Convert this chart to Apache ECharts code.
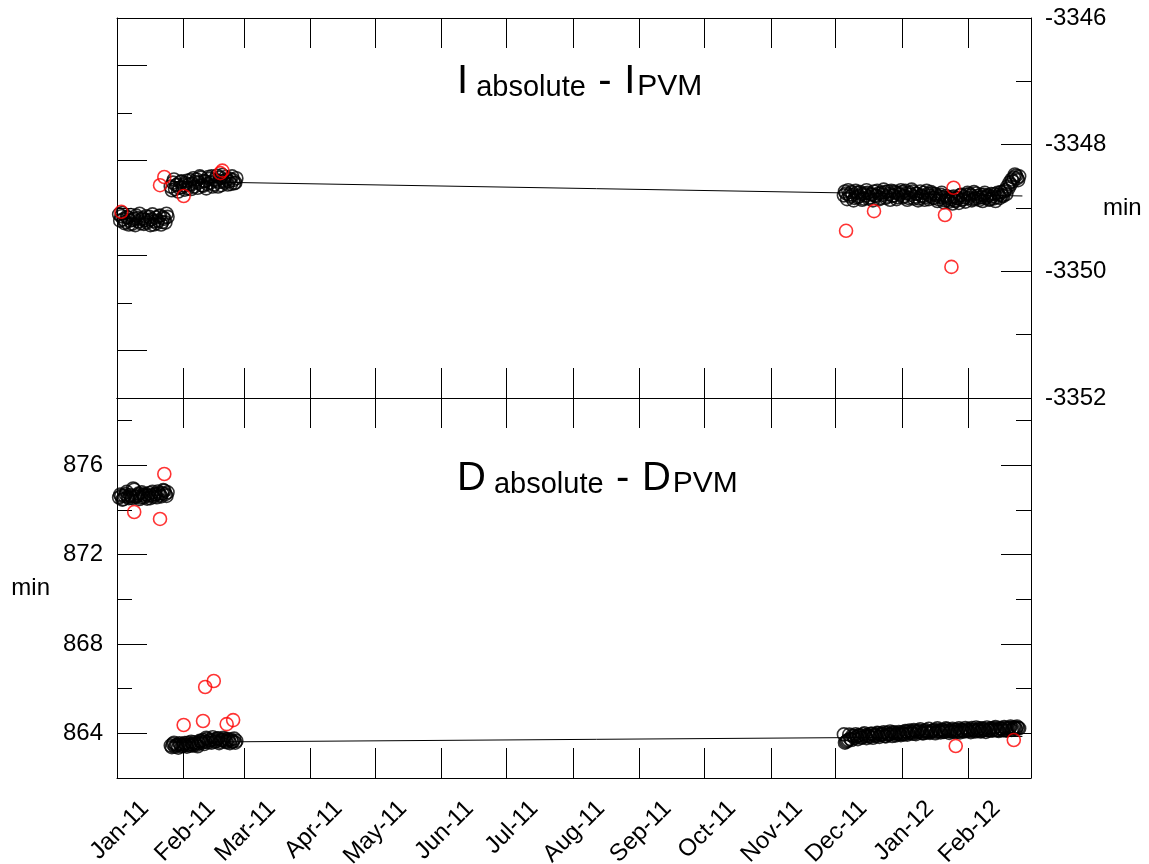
<!DOCTYPE html>
<html><head><meta charset="utf-8">
<script src="https://cdn.jsdelivr.net/npm/echarts@6/dist/echarts.min.js"></script>
<style>html,body{margin:0;padding:0;background:#fff}#c{width:1149px;height:864px}</style>
</head><body><div id="c"></div>
<script>
// ---------- axis ticks / labels ----------
const monthStarts = ['2011-01-01','2011-02-01','2011-03-01','2011-04-01','2011-05-01','2011-06-01','2011-07-01',
  '2011-08-01','2011-09-01','2011-10-01','2011-11-01','2011-12-01','2012-01-01','2012-02-01','2012-03-01'];
const monthLabels = ['Jan-11','Feb-11','Mar-11','Apr-11','May-11','Jun-11','Jul-11','Aug-11','Sep-11','Oct-11',
  'Nov-11','Dec-11','Jan-12','Feb-12'];
const iAxisLabels = [-3352, -3350, -3348, -3346];
const iAxisMinorTicks = [-3351, -3349, -3347];
const iLeftMajorTicks = [-3346.75, -3348.25, -3349.75, -3351.25];
const iLeftMinorTicks = [-3347.5, -3349, -3350.5];
const dAxisLabels = [864, 868, 872, 876];
const dAxisMinorTicks = [866, 870, 874, 878];

// ---------- I absolute - I PVM (two observations per day: A at 00h, B at 12h) ----------
const iJanStart = '2011-01-02';
const iJanA = [-3349.10,-3349.13,-3349.18,-3349.22,-3349.15,-3349.20,-3349.25,-3349.17,-3349.12,-3349.21,-3349.24,-3349.16,
  -3349.19,-3349.23,-3349.14,-3349.18,-3349.26,-3349.15,-3349.20,-3349.12,-3349.22,-3349.17,-3349.09];
const iJanB = [-3349.20,-3349.08,-3349.24,-3349.14,-3349.26,-3349.11,-3349.19,-3349.27,-3349.16,-3349.09,-3349.18,-3349.25,
  -3349.13,-3349.20,-3349.27,-3349.10,-3349.21,-3349.24,-3349.13,-3349.26,-3349.15,-3349.23,-3349.14];
const iFebStart = '2011-01-26';
const iFebA = [-3348.66,-3348.60,-3348.70,-3348.63,-3348.68,-3348.58,-3348.64,-3348.61,-3348.69,-3348.56,-3348.62,-3348.66,
  -3348.55,-3348.60,-3348.52,-3348.65,-3348.58,-3348.62,-3348.54,-3348.50,-3348.63,-3348.57,-3348.66,-3348.52,-3348.48,
  -3348.60,-3348.55,-3348.58,-3348.62,-3348.56,-3348.60];
const iFebB = [-3348.72,-3348.55,-3348.64,-3348.74,-3348.59,-3348.67,-3348.71,-3348.57,-3348.63,-3348.70,-3348.53,-3348.59,
  -3348.68,-3348.50,-3348.64,-3348.57,-3348.69,-3348.51,-3348.60,-3348.66,-3348.55,-3348.49,-3348.59,-3348.64,-3348.57,
  -3348.51,-3348.63,-3348.54,-3348.50,-3348.61,-3348.53];
const iWinterStart = '2011-12-05';
const iWinterA = [-3348.80,-3348.77,-3348.72,-3348.82,-3348.79,-3348.84,-3348.76,-3348.81,-3348.78,-3348.85,-3348.80,
  -3348.76,-3348.83,-3348.79,-3348.74,-3348.81,-3348.77,-3348.84,-3348.79,-3348.75,-3348.82,-3348.78,-3348.73,-3348.80,
  -3348.76,-3348.83,-3348.79,
  -3348.75,-3348.81,-3348.77,-3348.84,-3348.79,-3348.74,-3348.82,-3348.78,-3348.85,-3348.80,-3348.76,-3348.83,-3348.78,
  -3348.81,-3348.77,-3348.84,-3348.80,-3348.86,-3348.79,-3348.83,-3348.88,-3348.84,-3348.90,-3348.86,-3348.82,-3348.89,
  -3348.85,-3348.80,-3348.87,-3348.83,-3348.79,
  -3348.84,-3348.80,-3348.86,-3348.85,-3348.81,-3348.87,-3348.83,-3348.79,-3348.84,-3348.80,-3348.86,-3348.82,-3348.78,
  -3348.83,-3348.79,-3348.75,-3348.81,-3348.72,-3348.66,-3348.60,-3348.55,-3348.52,-3348.49,-3348.56];
const iWinterB = [-3348.74,-3348.86,-3348.79,-3348.75,-3348.88,-3348.73,-3348.83,-3348.75,-3348.87,-3348.77,-3348.72,
  -3348.85,-3348.78,-3348.88,-3348.80,-3348.73,-3348.86,-3348.76,-3348.71,-3348.84,-3348.74,-3348.87,-3348.81,-3348.74,
  -3348.86,-3348.77,-3348.72,
  -3348.83,-3348.73,-3348.87,-3348.76,-3348.71,-3348.85,-3348.77,-3348.88,-3348.74,-3348.82,-3348.87,-3348.73,-3348.86,
  -3348.75,-3348.84,-3348.78,-3348.89,-3348.82,-3348.76,-3348.91,-3348.81,-3348.87,-3348.83,-3348.93,-3348.88,-3348.84,
  -3348.92,-3348.79,-3348.86,-3348.90,-3348.76,
  -3348.78,-3348.88,-3348.75,-3348.77,-3348.84,-3348.79,-3348.89,-3348.76,-3348.82,-3348.87,-3348.78,-3348.85,-3348.89,
  -3348.76,-3348.84,-3348.80,-3348.74,-3348.78,-3348.69,-3348.63,-3348.58,-3348.47,-3348.53,-3348.50];
const iOutliers = [['2011-01-03',-3349.06],['2011-01-21',-3348.64],['2011-01-23',-3348.51],['2011-02-01',-3348.81],
  ['2011-02-18',-3348.45],['2011-02-19',-3348.41],['2011-12-06',-3349.36],['2011-12-19',-3349.05],
  ['2012-01-21',-3349.11],['2012-01-25',-3348.68],['2012-01-24',-3349.93]];
const iFitJan = [['2011-01-01',-3349.17],['2011-01-26',-3349.17]];
const iFitMain = [['2011-01-26',-3348.58],['2012-02-26',-3348.81]];

// ---------- D absolute - D PVM (two observations per day) ----------
const dJanStart = '2011-01-02';
const dJanA = [874.55,874.62,874.48,874.70,874.58,874.66,874.52,874.90,874.60,874.72,874.55,874.68,874.62,874.50,874.75,
  874.64,874.58,874.70,874.82,874.66,874.74,874.85,874.62];
const dJanB = [874.68,874.45,874.62,874.80,874.52,874.60,874.95,874.58,874.66,874.48,874.78,874.56,874.70,874.64,874.52,
  874.80,874.68,874.56,874.74,874.60,874.88,874.70,874.78];
const dFebStart = '2011-01-26';
const dFebA = [863.45,863.52,863.40,863.48,863.55,863.42,863.50,863.46,863.58,863.44,863.52,863.60,863.48,863.56,863.65,
  863.70,863.62,863.75,863.68,863.58,863.72,863.66,863.78,863.62,863.70,863.74,863.60,863.68,863.72,863.64,863.58];
const dFebB = [863.38,863.58,863.46,863.36,863.50,863.44,863.56,863.40,863.50,863.62,863.46,863.54,863.42,863.66,863.58,
  863.52,863.80,863.60,863.70,863.82,863.62,863.76,863.56,863.70,863.80,863.64,863.74,863.56,863.62,863.76,863.66];
const dWinterStart = '2011-12-05';
const dWinterA = [863.95,863.62,863.70,863.75,863.90,863.78,863.85,863.92,863.80,863.96,863.86,863.93,863.84,863.98,
  863.90,863.87,864.00,863.92,863.96,863.88,864.02,863.94,863.98,864.05,863.90,864.00,863.96,
  864.04,863.95,864.08,864.00,864.06,863.98,864.10,864.03,864.12,864.05,864.00,864.14,864.07,864.02,864.10,864.16,
  864.06,864.12,864.04,864.15,864.08,864.18,864.02,864.12,864.06,864.16,864.10,864.04,864.14,864.08,864.18,
  864.10,864.05,864.16,864.08,864.14,864.22,864.10,864.18,864.06,864.15,864.20,864.12,864.24,864.16,864.10,864.20,
  864.14,864.25,864.18,864.22,864.15,864.26,864.20,864.24];
const dWinterB = [863.58,863.66,863.94,863.70,863.86,863.96,863.74,863.90,863.82,864.00,863.78,863.88,863.98,863.80,
  863.94,864.02,863.84,863.98,864.04,863.86,863.94,864.08,863.88,864.02,863.96,864.06,863.92,
  863.98,864.10,863.94,864.12,864.02,864.14,863.96,864.08,864.18,864.00,864.10,864.04,864.20,864.06,864.12,864.00,
  864.22,864.10,864.16,864.06,864.22,864.12,864.08,864.20,864.14,864.06,864.22,864.16,864.10,864.24,864.12,
  864.18,864.24,864.12,864.26,864.16,864.08,864.22,864.16,864.26,864.12,864.22,864.18,864.28,864.14,864.24,864.18,
  864.28,864.12,864.24,864.30,864.20,864.26,864.30,864.22];
const dOutliers = [['2011-01-09',873.90],['2011-01-21',873.59],['2011-01-23',875.60],['2011-02-01',864.37],
  ['2011-02-10',864.55],['2011-02-11',866.07],['2011-02-15',866.34],['2011-02-21',864.41],['2011-02-24',864.59],
  ['2012-01-26',863.43],['2012-02-22',863.70]];
const dFitJan = [['2011-01-01',874.66],['2011-01-26',874.66]];
const dFitMain = [['2011-01-26',863.60],['2012-02-26',863.86]];

// ---------- helpers ----------
const DAY = 86400000;
function t(s) { const p = s.split('-').map(Number); return Date.UTC(p[0], p[1] - 1, p[2]); }
function daily(start, vals, offDays) { const t0 = t(start) + offDays * DAY; return vals.map((v, k) => [t0 + k * DAY, v]); }
function pairs(arr) { return arr.map(a => [t(a[0]), a[1]]); }
function twice(start, a, b) { return daily(start, a, 0).concat(daily(start, b, 0.5)); }

const monthTimes = monthStarts.map(t);
const xMin = monthTimes[0], xMax = monthTimes[monthTimes.length - 1];
const labelTimes = monthTimes.slice(0, monthLabels.length);
const labelShift = 13 * DAY;
const FONT = 'Liberation Sans, Arial, sans-serif';

function xAx(grid, pos) {
  return { type: 'value', gridIndex: grid, position: pos, min: xMin, max: xMax,
    axisLine: { show: true, onZero: false, lineStyle: { color: '#000', width: 1 } },
    axisTick: { show: true, inside: true, length: 30, customValues: monthTimes, lineStyle: { color: '#000', width: 1 } },
    axisLabel: { show: false }, splitLine: { show: false } };
}
function yAx(grid, pos, min, max, ticks, len, line, labels, name, nameGap) {
  const a = { type: 'value', gridIndex: grid, position: pos, min: min, max: max,
    axisLine: { show: line, onZero: false, lineStyle: { color: '#000', width: 1 } },
    axisTick: { show: true, inside: true, length: len, customValues: ticks, lineStyle: { color: '#000', width: 1 } },
    axisLabel: labels ? { show: true, customValues: labels, fontSize: 24, fontFamily: FONT, color: '#000', margin: 14,
      formatter: v => String(v) } : { show: false },
    splitLine: { show: false } };
  if (name) {
    a.name = name; a.nameLocation = 'middle'; a.nameRotate = 0; a.nameGap = nameGap; a.nameMoveOverlap = false;
    a.nameTextStyle = { fontSize: 24, fontFamily: FONT, color: '#000' };
  }
  return a;
}
const blackStyle = { color: 'transparent', borderColor: '#000', borderWidth: 1.6 };
const redStyle = { color: 'transparent', borderColor: '#ff0000', borderWidth: 1.6 };
function scat(data, xi, yi, style, z) {
  return { type: 'scatter', xAxisIndex: xi, yAxisIndex: yi, data: data, symbol: 'circle', symbolSize: 13,
    itemStyle: style, z: z, silent: true };
}
function fit(data, xi, yi) {
  return { type: 'line', xAxisIndex: xi, yAxisIndex: yi, data: pairs(data), symbol: 'none',
    lineStyle: { color: '#000', width: 1 }, z: 1, silent: true };
}
function titleText(a) {
  return '{big|' + a + '}{sub| absolute }{gap| }{big|-}{sub| }{gap| }{big|' + a + '}{pvm|PVM}';
}
const titleRich = {
  big: { fontSize: 40, fontFamily: FONT, fontWeight: 'normal', color: '#000', lineHeight: 44, verticalAlign: 'bottom' },
  sub: { fontSize: 29, fontFamily: FONT, fontWeight: 'normal', color: '#000', lineHeight: 44, verticalAlign: 'bottom' },
  pvm: { fontSize: 30, fontFamily: FONT, fontWeight: 'normal', color: '#000', lineHeight: 44, verticalAlign: 'bottom',
    padding: [0, 0, 0, 2] },
  gap: { fontSize: 16, fontFamily: FONT, fontWeight: 'normal', color: '#000', lineHeight: 44, verticalAlign: 'bottom' }
};

const option = {
  animation: false,
  backgroundColor: '#fff',
  title: [
    { text: titleText('I'), left: 457, top: 58, padding: 0, textStyle: { fontWeight: 'normal', rich: titleRich } },
    { text: titleText('D'), left: 457, top: 455, padding: 0, textStyle: { fontWeight: 'normal', rich: titleRich } }
  ],
  grid: [
    { left: 117, top: 18, width: 914, height: 380, containLabel: false, outerBoundsMode: 'none' },
    { left: 117, top: 398, width: 914, height: 380, containLabel: false, outerBoundsMode: 'none' }
  ],
  xAxis: [
    xAx(0, 'bottom'), xAx(0, 'top'), xAx(1, 'bottom'), xAx(1, 'top'),
    { type: 'value', gridIndex: 1, position: 'bottom', min: xMin - labelShift, max: xMax - labelShift,
      axisLine: { show: false, onZero: false }, axisTick: { show: false }, splitLine: { show: false },
      axisLabel: { show: true, customValues: labelTimes, rotate: 45, margin: 27, fontSize: 24, fontFamily: FONT,
        color: '#000', formatter: v => monthLabels[labelTimes.indexOf(v)] || '' } }
  ],
  yAxis: [
    yAx(0, 'right', -3352, -3346, iAxisLabels, 30, true, iAxisLabels, 'min', 72),
    yAx(0, 'right', -3352, -3346, iAxisMinorTicks, 15, false, null),
    yAx(0, 'left', -3352, -3346, iLeftMajorTicks, 30, true, null),
    yAx(0, 'left', -3352, -3346, iLeftMinorTicks, 15, false, null),
    yAx(1, 'left', 862, 879, dAxisLabels, 30, true, dAxisLabels, 'min', 67),
    yAx(1, 'left', 862, 879, dAxisMinorTicks, 15, false, null),
    yAx(1, 'right', 862, 879, dAxisLabels, 30, true, null),
    yAx(1, 'right', 862, 879, dAxisMinorTicks, 15, false, null)
  ],
  series: [
    fit(iFitJan, 0, 0), fit(iFitMain, 0, 0),
    scat(twice(iJanStart, iJanA, iJanB).concat(twice(iFebStart, iFebA, iFebB), twice(iWinterStart, iWinterA, iWinterB)),
      0, 0, blackStyle, 2),
    scat(pairs(iOutliers), 0, 0, redStyle, 3),
    fit(dFitJan, 2, 4), fit(dFitMain, 2, 4),
    scat(twice(dJanStart, dJanA, dJanB).concat(twice(dFebStart, dFebA, dFebB), twice(dWinterStart, dWinterA, dWinterB)),
      2, 4, blackStyle, 2),
    scat(pairs(dOutliers), 2, 4, redStyle, 3)
  ]
};
echarts.init(document.getElementById('c'), null, { renderer: 'canvas' }).setOption(option);
</script></body></html>
